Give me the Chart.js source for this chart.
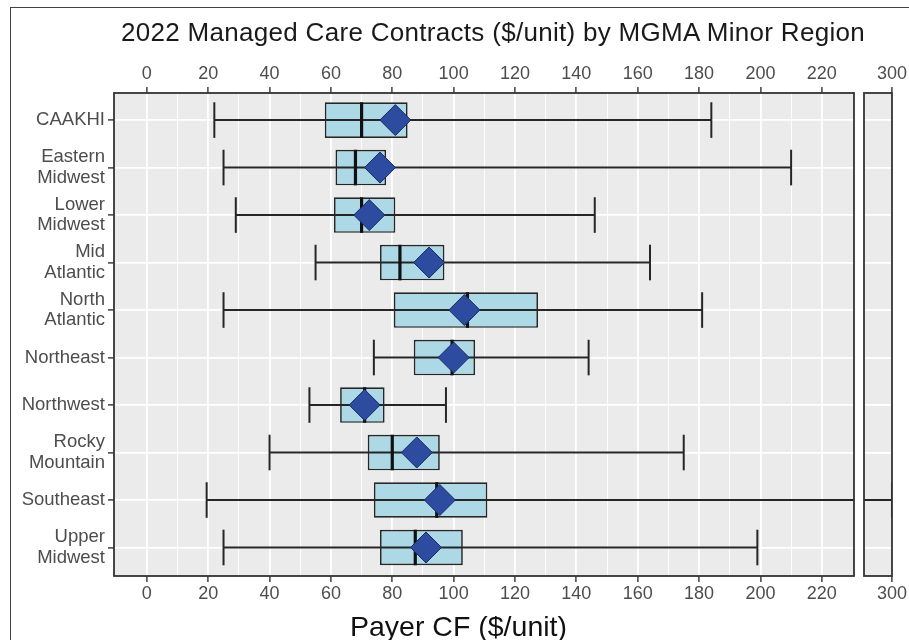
<!DOCTYPE html>
<html>
<head>
<meta charset="utf-8">
<script src="https://cdn.jsdelivr.net/npm/chart.js@4"></script>
<style>
  body { margin: 0; background: #fff; }
  #wrap { position: relative; width: 909px; height: 640px; overflow: hidden; background: #fff; }
  #frame { position: absolute; left: 10px; top: 7px; width: 920px; height: 660px;
           border-left: 1.5px solid #444; border-top: 1.5px solid #444; }
  #title { position: absolute; left: 121px; top: 19px; font: 26px 'Liberation Sans', Arial, sans-serif;
           line-height: 26px; letter-spacing: 0.3px; color: #1a1a1a; white-space: nowrap; }
  #xtitle { position: absolute; left: 350px; top: 612px; font: 28.5px 'Liberation Sans', Arial, sans-serif;
            line-height: 28.5px; color: #111; white-space: nowrap; }
  canvas { position: absolute; top: 0; }
  #main { left: 0; }
  #side { left: 858px; }
</style>
</head>
<body>
<div id="wrap">
  <div id="frame"></div>
  <canvas id="main" width="858" height="640"></canvas>
  <canvas id="side" width="51" height="640"></canvas>
  <div id="title">2022 Managed Care Contracts ($/unit) by MGMA Minor Region</div>
  <div id="xtitle">Payer CF ($/unit)</div>
</div>
<script>
// regions, top to bottom
const regions = ["CAAKHI", "Eastern Midwest", "Lower Midwest", "Mid Atlantic", "North Atlantic",
                 "Northeast", "Northwest", "Rocky Mountain", "Southeast", "Upper Midwest"];
// box plot stats ($/unit)
const whiskerLow  = [22, 25, 29, 55, 25, 74, 53, 40, 19.5, 25];
const q1          = [58, 61.5, 61, 76, 80.5, 87, 63, 72, 74, 76];
const median      = [70, 68, 70, 82.5, 104.5, 99.5, 71, 80, 94.5, 87.5];
const q3          = [85, 78, 81, 97, 127.5, 107, 77.5, 95.5, 111, 103];
const whiskerHigh = [184, 210, 146, 164, 181, 144, 97.5, 175, 300, 199];
const mean        = [81, 76, 72.5, 92, 103.5, 100, 71, 88, 95.5, 91];

const mainTicks = [0, 10, 20, 30, 40, 50, 60, 70, 80, 90, 100, 110, 120, 130, 140, 150, 160, 170, 180, 190, 200, 210, 220];
const sideTicks = [300];

const regionLabels = regions.map(r => r.includes(" ") ? r.split(" ") : r);

Chart.defaults.font.family = "'Liberation Sans', Arial, sans-serif";
Chart.defaults.color = "#4D4D4D";

const panel = {
    id: "panel",
    beforeDraw(chart) {
        const { ctx, chartArea: a } = chart;
        ctx.save();
        ctx.fillStyle = "#EBEBEB";
        ctx.fillRect(a.left, a.top, a.width, a.height);
        ctx.restore();
    },
    afterDatasetsDraw(chart) {
        const { ctx, chartArea: a } = chart;
        ctx.save();
        ctx.strokeStyle = "#333";
        ctx.lineWidth = 1.8;
        ctx.strokeRect(a.left, a.top, a.width, a.height);
        ctx.restore();
    }
};

const isMajor = v => v % 20 === 0 || v === 300;

function buildDatasets() {
    const idx = regions.map((_, i) => i);
    return [
        {
            type: "bar",
            data: idx.map(i => ({ x: [q1[i], q3[i]], y: i })),
            backgroundColor: "#ADD8E6",
            borderColor: "#262626",
            borderWidth: 1.7,
            borderSkipped: false,
            grouped: false,
            barPercentage: 0.75,
            categoryPercentage: 1,
            order: 5
        },
        {
            type: "bar",
            data: idx.map(i => ({ x: [whiskerLow[i], whiskerHigh[i]], y: i })),
            backgroundColor: "#262626",
            borderWidth: 0,
            grouped: false,
            barPercentage: 0.042,
            categoryPercentage: 1,
            order: 4
        },
        {
            type: "scatter",
            data: idx.flatMap(i => [{ x: whiskerLow[i], y: i }, { x: whiskerHigh[i], y: i }]),
            pointStyle: "line",
            rotation: 90,
            radius: 17.8,
            borderWidth: 2,
            borderColor: "#262626",
            order: 3
        },
        {
            type: "scatter",
            data: idx.map(i => ({ x: median[i], y: i })),
            pointStyle: "line",
            rotation: 90,
            radius: 17.8,
            borderWidth: 3.2,
            borderColor: "#111",
            order: 2
        },
        {
            type: "scatter",
            data: idx.map(i => ({ x: mean[i], y: i })),
            pointStyle: "rectRot",
            radius: 15.5,
            backgroundColor: "#2D4B9F",
            borderColor: "#1c2a63",
            borderWidth: 1,
            order: 1
        }
    ];
}

function xAxis(pos, min, max, ticks, height, pad) {
    return {
        type: "linear",
        position: pos,
        min: min,
        max: max,
        afterBuildTicks: s => { s.ticks = ticks.map(v => ({ value: v })); },
        afterFit: s => { s.height = height; },
        border: { display: false },
        grid: {
            drawOnChartArea: pos === "bottom",
            color: "#FFFFFF",
            lineWidth: c => (c.tick && isMajor(c.tick.value)) ? 1.8 : 0.9,
            tickColor: c => (c.tick && isMajor(c.tick.value)) ? "#333" : "rgba(0,0,0,0)",
            tickLength: 6,
            tickWidth: 1.4
        },
        ticks: {
            autoSkip: false,
            maxRotation: 0,
            padding: pad,
            font: { size: 18 },
            color: "#4D4D4D",
            callback: v => isMajor(v) ? String(v) : ""
        }
    };
}

function yAxis(showLabels, width) {
    return {
        type: "linear",
        reverse: true,
        offset: false,
        min: -0.57,
        max: 9.6,
        afterBuildTicks: s => { s.ticks = regions.map((_, i) => ({ value: i })); },
        afterFit: s => { s.width = width; },
        border: { display: false },
        grid: {
            offset: false,
            color: "#FFFFFF",
            lineWidth: 1.8,
            drawTicks: showLabels,
            tickColor: "#333",
            tickLength: 6,
            tickWidth: 1.4
        },
        ticks: {
            display: showLabels,
            padding: 3,
            font: { size: 18.5, lineHeight: 1.1 },
            color: "#4D4D4D",
            callback: v => regionLabels[v]
        }
    };
}

function makeChart(id, xmin, xmax, ticks, yShow, yWidth, padRight) {
    return new Chart(document.getElementById(id), {
        type: "bar",
        data: { datasets: buildDatasets() },
        options: {
            indexAxis: "y",
            responsive: false,
            animation: false,
            layout: { autoPadding: false, padding: { left: 0, right: padRight, top: 0, bottom: 0 } },
            plugins: { legend: { display: false }, tooltip: { enabled: false }, title: { display: false } },
            scales: {
                x: xAxis("bottom", xmin, xmax, ticks, 64, 1),
                x2: xAxis("top", xmin, xmax, ticks, 93, 2),
                y: yAxis(yShow, yWidth)
            }
        },
        plugins: [panel]
    });
}

makeChart("main", -10.7, 230.5, mainTicks, true, 114, 4);
makeChart("side", 289.7, 300, sideTicks, false, 6, 13);
</script>
</body>
</html>
